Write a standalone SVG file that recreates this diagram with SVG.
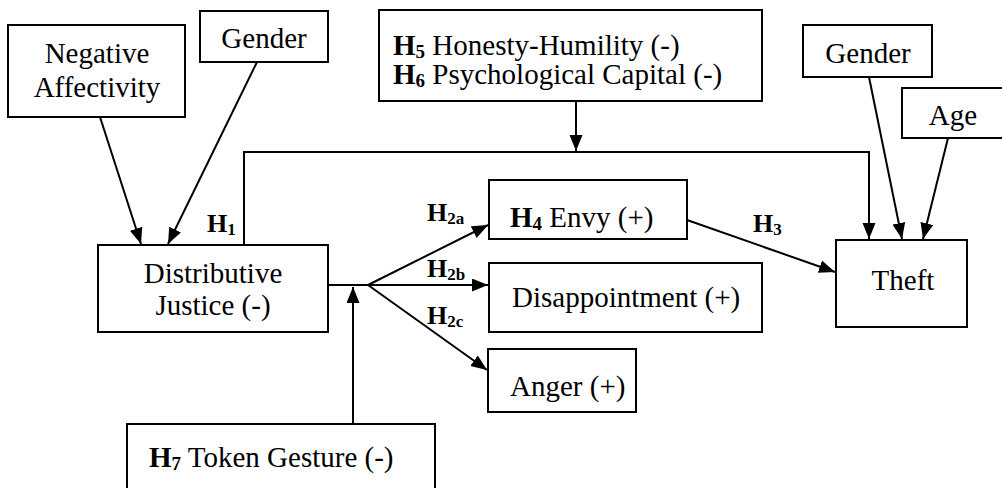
<svg xmlns="http://www.w3.org/2000/svg" width="1002" height="488" viewBox="0 0 1002 488">
<style>
.box{fill:#fff;stroke:#000;stroke-width:2}
.t{font-family:"Liberation Serif","Times New Roman",serif;font-size:29px;fill:#000}
.c{text-anchor:middle}
.b{font-weight:bold}
.sub{font-size:19px;font-weight:bold}
.lab{font-family:"Liberation Serif","Times New Roman",serif;font-size:26px;font-weight:bold;fill:#000}
.lsub{font-size:17px}
.con{fill:none;stroke:#000;stroke-width:2}
</style>
<defs>
<marker id="ah" markerUnits="userSpaceOnUse" markerWidth="17" markerHeight="14" refX="16" refY="6.5" orient="auto">
<path d="M0,0 L16,6.5 L0,13 z" fill="#000"/>
</marker>
</defs>
<rect width="1002" height="488" fill="#fff"/>
<g id="connectors">
<line class="con" x1="100" y1="117" x2="141" y2="244" marker-end="url(#ah)"/>
<line class="con" x1="257" y1="62" x2="168" y2="244" marker-end="url(#ah)"/>
<polyline class="con" points="244,245 244,152 869,152 869,239" marker-end="url(#ah)"/>
<line class="con" x1="576" y1="101" x2="576" y2="151" marker-end="url(#ah)"/>
<line class="con" x1="869" y1="77" x2="902" y2="239" marker-end="url(#ah)"/>
<line class="con" x1="948" y1="138" x2="923" y2="239" marker-end="url(#ah)"/>
<line class="con" x1="328" y1="285" x2="368" y2="285"/>
<line class="con" x1="368" y1="285" x2="488" y2="225" marker-end="url(#ah)"/>
<line class="con" x1="368" y1="285" x2="488" y2="285" marker-end="url(#ah)"/>
<line class="con" x1="368" y1="285" x2="487" y2="370" marker-end="url(#ah)"/>
<line class="con" x1="353" y1="424" x2="353" y2="287" marker-end="url(#ah)"/>
<line class="con" x1="687" y1="220" x2="835" y2="272" marker-end="url(#ah)"/>
<text class="lab" x="207" y="232">H<tspan class="lsub" dy="3">1</tspan></text>
<text class="lab" x="427" y="221">H<tspan class="lsub" dy="3">2a</tspan></text>
<text class="lab" x="427" y="277">H<tspan class="lsub" dy="3">2b</tspan></text>
<text class="lab" x="427" y="324">H<tspan class="lsub" dy="3">2c</tspan></text>
<text class="lab" x="753" y="232">H<tspan class="lsub" dy="3">3</tspan></text>
</g>
<g id="neg-affectivity">
<rect class="box" x="8" y="25" width="177" height="92"/>
<text class="t c" x="97" y="63">Negative</text>
<text class="t c" x="97" y="97">Affectivity</text>
</g>
<g id="gender-left">
<rect class="box" x="200" y="11" width="128" height="51"/>
<text class="t c" x="264" y="48">Gender</text>
</g>
<g id="moderators">
<rect class="box" x="379" y="10" width="383" height="91"/>
<text class="t" x="393" y="55"><tspan class="b">H</tspan><tspan class="sub" dy="3">5</tspan><tspan dy="-3"> Honesty-Humility (-)</tspan></text>
<text class="t" x="393" y="84"><tspan class="b">H</tspan><tspan class="sub" dy="3">6</tspan><tspan dy="-3"> Psychological Capital (-)</tspan></text>
</g>
<g id="gender-right">
<rect class="box" x="803" y="25" width="129" height="52"/>
<text class="t c" x="868" y="63">Gender</text>
</g>
<g id="age">
<rect class="box" x="902" y="88" width="102" height="50"/>
<text class="t c" x="953" y="125">Age</text>
</g>
<g id="distributive-justice">
<rect class="box" x="98" y="245" width="230" height="87"/>
<text class="t c" x="213" y="283">Distributive</text>
<text class="t c" x="213" y="315">Justice (-)</text>
</g>
<g id="envy">
<rect class="box" x="489" y="180" width="198" height="59"/>
<text class="t" x="510" y="227"><tspan class="b">H</tspan><tspan class="sub" dy="3">4</tspan><tspan dy="-3"> Envy (+)</tspan></text>
</g>
<g id="disappointment">
<rect class="box" x="489" y="263" width="273" height="69"/>
<text class="t" x="512" y="307">Disappointment (+)</text>
</g>
<g id="anger">
<rect class="box" x="488" y="349" width="148" height="63"/>
<text class="t" x="510" y="396">Anger (+)</text>
</g>
<g id="theft">
<rect class="box" x="836" y="240" width="131" height="87"/>
<text class="t c" x="903" y="290">Theft</text>
</g>
<g id="token-gesture">
<rect class="box" x="127" y="424" width="308" height="70"/>
<text class="t" x="149" y="467"><tspan class="b">H</tspan><tspan class="sub" dy="3">7</tspan><tspan dy="-3"> Token Gesture (-)</tspan></text>
</g>
</svg>
